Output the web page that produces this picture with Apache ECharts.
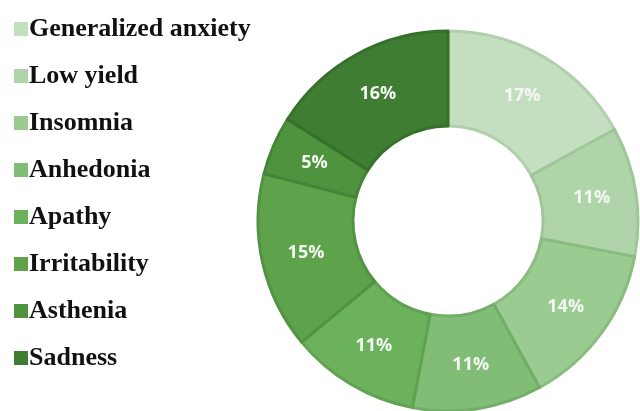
<!DOCTYPE html>
<html>
<head>
<meta charset="utf-8">
<style>
  html, body { margin: 0; padding: 0; background: #fff; }
  #chart { width: 640px; height: 411px; }
</style>
<script src="https://cdn.jsdelivr.net/npm/echarts@6/dist/echarts.min.js"></script>
</head>
<body>
<div id="chart"></div>
<script>
// symptoms, clockwise from 12 o'clock
var categories = ['Generalized anxiety', 'Low yield', 'Insomnia', 'Anhedonia',
                  'Apathy', 'Irritability', 'Asthenia', 'Sadness'];
var shares = [17, 11, 14, 11, 11, 15, 5, 16];

// light -> dark green
var palette = ['#c4dec0', '#b0d4a9', '#9acb91', '#82bd77', '#6cb15c', '#5ea24b', '#4f933f', '#3e7d32'];
var edges   = ['#b2cfad', '#9fc698', '#89bd80', '#72ae67', '#5fa250', '#529343', '#458537', '#36702b'];

var pieData = [];
for (var i = 0; i < categories.length; i++) {
    pieData.push({
        name: categories[i],
        value: shares[i],
        itemStyle: { color: palette[i], borderColor: edges[i] }
    });
}

var option = {
    animation: false,
    legend: {
        orient: 'vertical',
        left: 9,
        top: 11,
        icon: 'rect',
        itemWidth: 14,
        itemHeight: 14,
        itemGap: 21,
        itemStyle: { borderWidth: 0 },
        textStyle: {
            fontFamily: 'Liberation Serif',
            fontWeight: 'bold',
            fontSize: 26,
            lineHeight: 26,
            color: '#111',
            padding: [0, 0, 0, -4]
        },
        data: categories
    },
    series: [
        {
            type: 'pie',
            center: [448, 221],
            radius: [95, 190],
            startAngle: 90,
            clockwise: true,
            itemStyle: { borderWidth: 3 },
            label: {
                show: true,
                position: 'inside',
                formatter: '{c}%',
                color: '#f4f8f2',
                fontFamily: 'Open Sans',
                fontWeight: 'bold',
                fontSize: 18
            },
            labelLine: { show: false },
            emphasis: { disabled: true },
            data: pieData
        }
    ]
};

var chart = echarts.init(document.getElementById('chart'));
chart.setOption(option);
</script>
</body>
</html>
